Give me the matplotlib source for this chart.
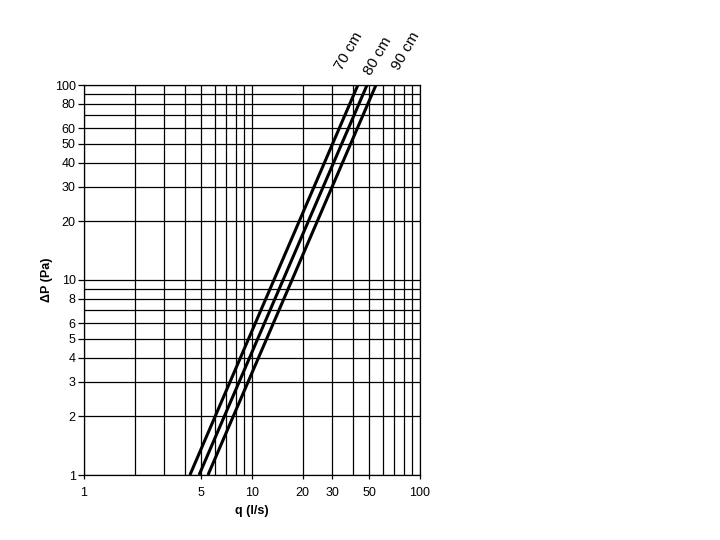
import numpy as np
import matplotlib
matplotlib.use('Agg')
import matplotlib.pyplot as plt
from matplotlib.ticker import NullFormatter, FixedLocator

plt.rcParams['font.family'] = ['Liberation Sans', 'DejaVu Sans']

# pressure drop range of the curves (Pa)
dp_ends = [1, 100]
# flow (l/s) at 1 Pa and at 100 Pa for each width
curve_labels = ['70 cm', '80 cm', '90 cm']
q_ends = [[4.27, 42.7],
          [4.84, 48.4],
          [5.47, 54.7]]

x_ticks = [1, 5, 10, 20, 30, 50, 100]
y_ticks = [1, 2, 3, 4, 5, 6, 8, 10, 20, 30, 40, 50, 60, 80, 100]
grid_vals = [1, 2, 3, 4, 5, 6, 7, 8, 9, 10, 20, 30, 40, 50, 60, 70, 80, 90, 100]

fig = plt.figure(figsize=(7.2, 5.4), dpi=100)
ax = fig.add_axes([84/720, 65/540, 336/720, 390/540])

ax.set_xscale('log')
ax.set_yscale('log')
ax.set_xlim(1, 100)
ax.set_ylim(1, 100)

# grid
for v in grid_vals:
    ax.axvline(v, color='black', lw=0.9, zorder=1)
    ax.axhline(v, color='black', lw=0.9, zorder=1)

for q in q_ends:
    ax.plot(q, dp_ends, color='black', lw=2.2, solid_capstyle='butt', zorder=3)

ax.xaxis.set_major_locator(FixedLocator(x_ticks))
ax.xaxis.set_minor_locator(FixedLocator([]))
ax.xaxis.set_minor_formatter(NullFormatter())
ax.set_xticklabels([str(v) for v in x_ticks])
ax.yaxis.set_major_locator(FixedLocator(y_ticks))
ax.yaxis.set_minor_locator(FixedLocator([]))
ax.yaxis.set_minor_formatter(NullFormatter())
ax.set_yticklabels([str(v) for v in y_ticks])

ax.tick_params(axis='y', length=4, width=0.9, labelsize=9, pad=2)
ax.tick_params(axis='x', length=3, width=0.9, labelsize=9, pad=6)
for s in ax.spines.values():
    s.set_linewidth(0.9)
    s.set_color('black')

ax.set_xlabel('q (l/s)', fontsize=9, fontweight='bold', labelpad=4)
ax.set_ylabel('ΔP (Pa)', fontsize=9, fontweight='bold', labelpad=1)

label_pos = [(349, 51), (378, 56), (406, 51)]
for lab, (px, py) in zip(curve_labels, label_pos):
    fig.text(px/720, 1 - py/540, lab, fontsize=11, rotation=60,
             ha='center', va='center', rotation_mode='anchor')

fig.savefig('out.png', dpi=100)
